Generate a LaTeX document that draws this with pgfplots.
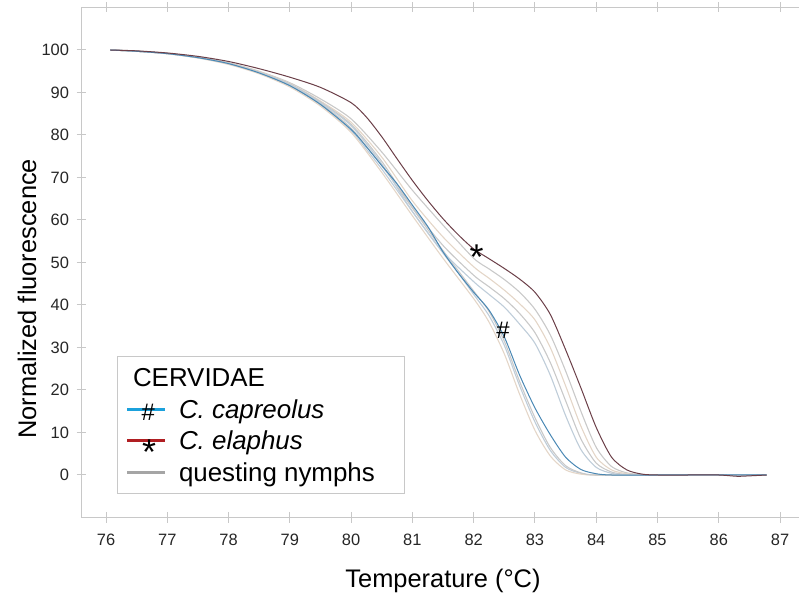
\documentclass[border=0pt]{standalone}
\usepackage{fontspec}
\setmainfont{Liberation Sans}
\usepackage{pgfplots}
\pgfplotsset{compat=1.18}
\definecolor{axgray}{HTML}{C8C8C8}
\definecolor{cgray}{HTML}{C9C9C9}
\definecolor{cbgray}{HTML}{BFCDD9}
\definecolor{ctan}{HTML}{E4D6C8}
\definecolor{cblue}{HTML}{4A88B4}
\definecolor{cred}{HTML}{6B3F48}
\definecolor{lcyan}{HTML}{1BA1DC}
\definecolor{lred}{HTML}{B01E22}
\definecolor{lgray}{HTML}{A5A5A5}
\begin{document}
\begin{tikzpicture}
\useasboundingbox (0bp,0bp) rectangle (799bp,603bp);
\begin{axis}[
  at={(81.5bp,85.5bp)}, anchor=south west,
  scale only axis, width=725bp, height=510bp,
  xmin=75.6, xmax=87.432, ymin=-10, ymax=110,
  axis line style={draw=axgray, line width=1bp},
  tick style={draw=axgray, line width=1bp},
  tick align=center, major tick length=10bp,
  xtick={76,77,...,87}, ytick={0,10,...,100},
  /pgf/number format/assume math mode=true,
  tick label style={font=\fontsize{16.5}{16.5}\selectfont, text=black!85},
  xticklabel style={yshift=-8bp},
  yticklabel style={xshift=-4bp},
  xlabel={Temperature (°C)},
  ylabel={Normalized fluorescence},
  label style={font=\fontsize{25.5}{25.5}\selectfont},
  xlabel style={at={(axis description cs:0.4986,-0.1382)}, anchor=base},
  ylabel style={at={(axis description cs:-0.0752,0.429)}, anchor=center},
  curve/.style={smooth, tension=0.45, line width=1.1bp, forget plot, mark=none},
  legend style={at={(axis description cs:0.049,0.3167)}, anchor=north west,
    draw=axgray, line width=1bp, inner xsep=8bp, inner ysep=8.95bp,
    row sep=7.7bp, column sep=12.5bp, font=\fontsize{26}{26}\selectfont,
    nodes={inner sep=0bp, text height=21bp, text depth=3bp}},
  legend cell align=left,
]
% questing nymphs, group A (near C. capreolus)
\addplot[curve, cbgray] coordinates {(76.07,100) (76.5,99.7) (77,99.15) (77.5,98.2) (78,96.8) (78.5,94.6) (79,91.6) (79.5,87.1) (80,81.0) (80.25,76.6) (80.5,72) (80.75,67) (81,62) (81.25,57) (81.5,52.2) (81.75,47.5) (82,42.5) (82.25,37.5) (82.5,30.5) (82.75,21) (83,12.5) (83.25,5.8) (83.5,1.8) (83.75,0.4) (84,0) (85,0) (86,0) (86.78,0)};
\addplot[curve, ctan] coordinates {(76.07,100) (76.5,99.7) (77,99.1) (77.5,98.1) (78,96.6) (78.5,94.4) (79,91.3) (79.5,86.8) (80,80.6) (80.5,71.2) (81,61) (81.5,51) (82,41.5) (82.25,36) (82.5,28.5) (82.75,19) (83,10.5) (83.25,4.5) (83.5,1.2) (83.75,0.2) (84,0) (85,0) (86,0) (86.78,0)};
\addplot[curve, cgray] coordinates {(76.07,100) (76.5,99.7) (77,99.15) (77.5,98.2) (78,96.8) (78.5,94.7) (79,91.8) (79.5,87.4) (80,81.6) (80.5,72.8) (81,62.8) (81.5,52.8) (82,43.3) (82.25,38.5) (82.5,31.5) (82.75,22) (83,13.5) (83.25,6.5) (83.5,2.2) (83.75,0.5) (84,0) (85,0) (86,0) (86.78,0)};
% questing nymphs, group B (near C. elaphus)
\addplot[curve, cgray] coordinates {(76.07,100) (76.5,99.7) (77,99.2) (77.5,98.3) (78,97.0) (78.5,95.0) (79,92.3) (79.5,88.5) (80,83.8) (80.5,76) (81,67) (81.5,58.8) (82,51) (82.25,48.5) (82.5,46) (82.75,43) (83,39) (83.25,33) (83.5,24.5) (83.75,15) (84,6.5) (84.25,2) (84.5,0.5) (84.75,0.1) (85,0) (86,0) (86.78,0)};
\addplot[curve, ctan] coordinates {(76.07,100) (76.5,99.7) (77,99.2) (77.5,98.3) (78,96.9) (78.5,94.9) (79,92.1) (79.5,88) (80,83) (80.5,74.8) (81,64.5) (81.5,56) (82,49) (82.25,46.3) (82.5,43.5) (82.75,40.3) (83,36.5) (83.25,30) (83.5,21) (83.75,11.5) (84,4.2) (84.25,1.2) (84.5,0.3) (84.75,0) (85,0) (86,0) (86.78,0)};
\addplot[curve, cgray] coordinates {(76.07,100) (76.5,99.7) (77,99.2) (77.5,98.3) (78,96.9) (78.5,94.8) (79,92) (79.5,87.8) (80,82.5) (80.5,73.8) (81,63) (81.5,54) (82,47) (82.25,44.3) (82.5,41.5) (82.75,38) (83,33.5) (83.25,26.5) (83.5,17.5) (83.75,8.5) (84,2.8) (84.25,0.7) (84.5,0.1) (84.75,0) (85,0) (86,0) (86.78,0)};
\addplot[curve, cbgray] coordinates {(76.07,100) (76.5,99.7) (77,99.15) (77.5,98.2) (78,96.8) (78.5,94.7) (79,91.9) (79.5,87.6) (80,82.2) (80.5,73.2) (81,62) (81.5,52.5) (82,45.5) (82.25,42.5) (82.5,39.5) (82.75,35.5) (83,31) (83.25,23.5) (83.5,14) (83.75,6) (84,1.8) (84.25,0.4) (84.5,0) (85,0) (86,0) (86.78,0)};
% C. capreolus
\addplot[curve, cblue, line width=1bp] coordinates {(76.07,100) (76.5,99.7) (77,99.15) (77.5,98.2) (78,96.8) (78.5,94.6) (79,91.6) (79.5,87.2) (80,81.3) (80.25,77.2) (80.5,72.8) (80.75,68.5) (81,63.5) (81.25,58.5) (81.5,52.5) (81.75,47.5) (82,43) (82.25,38.8) (82.5,32.5) (82.75,23.5) (83,15.8) (83.25,9.5) (83.5,4.2) (83.75,1.3) (84,0.3) (84.25,0) (85,0) (86,0) (86.78,0)};
% C. elaphus
\addplot[curve, cred, line width=1bp] coordinates {(76.07,100) (76.5,99.8) (77,99.3) (77.5,98.5) (78,97.3) (78.5,95.6) (79,93.6) (79.5,91.2) (80,87.6) (80.25,84.2) (80.5,79.6) (80.75,74.4) (81,69.3) (81.25,64.6) (81.5,60.3) (81.75,56.5) (82,53.2) (82.25,50.9) (82.5,48.6) (82.75,46.1) (83,43) (83.25,37.8) (83.5,29.5) (83.75,20.5) (84,11.2) (84.25,4.2) (84.5,1.2) (84.75,0.2) (85,0) (85.5,0) (86,0) (86.3,-0.3) (86.5,-0.2) (86.78,0)};
\node[anchor=base, inner sep=0pt, font=\fontsize{36}{36}\selectfont] at (axis cs:82.05,48.3) {*};
\node[anchor=base, inner sep=0pt, font=\fontsize{24}{24}\selectfont] at (axis cs:82.48,32.1) {\#};
% legend
\addlegendimage{empty legend}
\addlegendentry{\hspace*{-46bp}CERVIDAE}
\addlegendimage{legend image code/.code={\draw[line width=3bp, lcyan] (0bp,0bp) -- (38bp,0bp); \node[overlay, anchor=base, inner sep=0pt, text height=0pt, text depth=0pt, text=black, font=\fontsize{24}{24}\selectfont] at (21.3bp,-11.8bp) {\#};}}
\addlegendentry{\textit{C. capreolus}}
\addlegendimage{legend image code/.code={\draw[line width=3bp, lred] (0bp,0bp) -- (38bp,0bp); \node[overlay, anchor=base, inner sep=0pt, text height=0pt, text depth=0pt, text=black, font=\fontsize{36}{36}\selectfont] at (22bp,-23.8bp) {*};}}
\addlegendentry{\textit{C. elaphus}}
\addlegendimage{legend image code/.code={\draw[line width=3bp, lgray] (0bp,0bp) -- (38bp,0bp);}}
\addlegendentry{\makebox[217bp][l]{questing nymphs}}
\end{axis}
\end{tikzpicture}
\end{document}
